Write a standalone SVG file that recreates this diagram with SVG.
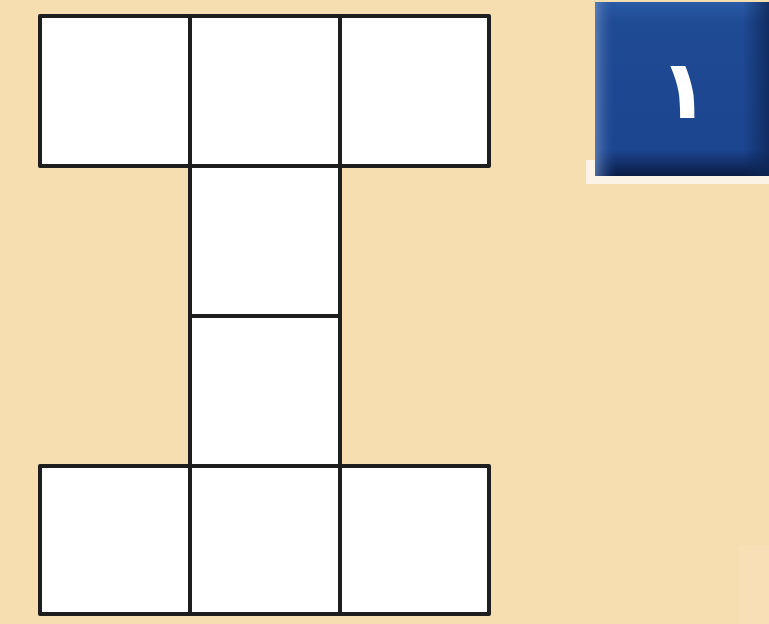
<svg xmlns="http://www.w3.org/2000/svg" width="769" height="624" viewBox="0 0 769 624">
<defs>
<style>
.cell{fill:#ffffff;stroke:#1e1e1e;stroke-width:4;stroke-linejoin:round}
.num{font-family:"DejaVu Sans","Noto Sans",sans-serif;font-size:82px;fill:#ffffff;font-weight:bold}
</style>
<linearGradient id="bv" x1="0" y1="0" x2="0" y2="1">
<stop offset="0" stop-color="#2a5ba6"/>
<stop offset="0.12" stop-color="#1f4a94"/>
<stop offset="0.85" stop-color="#1c4590"/>
<stop offset="1" stop-color="#0a1c45"/>
</linearGradient>
<linearGradient id="bh" x1="0" y1="0" x2="1" y2="0">
<stop offset="0" stop-color="#6f8fc4" stop-opacity="0.7"/>
<stop offset="0.12" stop-color="#1f4a94" stop-opacity="0"/>
<stop offset="0.85" stop-color="#0d2656" stop-opacity="0"/>
<stop offset="1" stop-color="#0d2656" stop-opacity="0.8"/>
</linearGradient>
</defs>
<rect width="769" height="624" fill="#f6deb0"/>
<rect x="738" y="545" width="31" height="79" fill="#f9dfb6" opacity="0.8"/>
<g id="badge">
<rect x="586" y="160" width="183" height="24" fill="#fbf3e6"/>
<rect x="595" y="2" width="174" height="174" fill="url(#bv)"/>
<rect x="595" y="2" width="174" height="174" fill="url(#bh)"/>
<text class="num" x="684" y="118" text-anchor="middle">١</text>
</g>
<g id="grid">
<rect id="r1c1" class="cell" x="40" y="16" width="150" height="150"/>
<rect id="r1c2" class="cell" x="190" y="16" width="150" height="150"/>
<rect id="r1c3" class="cell" x="340" y="16" width="149" height="150"/>
<rect id="r2c2" class="cell" x="190" y="166" width="150" height="150"/>
<rect id="r3c2" class="cell" x="190" y="316" width="150" height="150"/>
<rect id="r4c1" class="cell" x="40" y="466" width="150" height="148"/>
<rect id="r4c2" class="cell" x="190" y="466" width="150" height="148"/>
<rect id="r4c3" class="cell" x="340" y="466" width="149" height="148"/>
</g>
</svg>
